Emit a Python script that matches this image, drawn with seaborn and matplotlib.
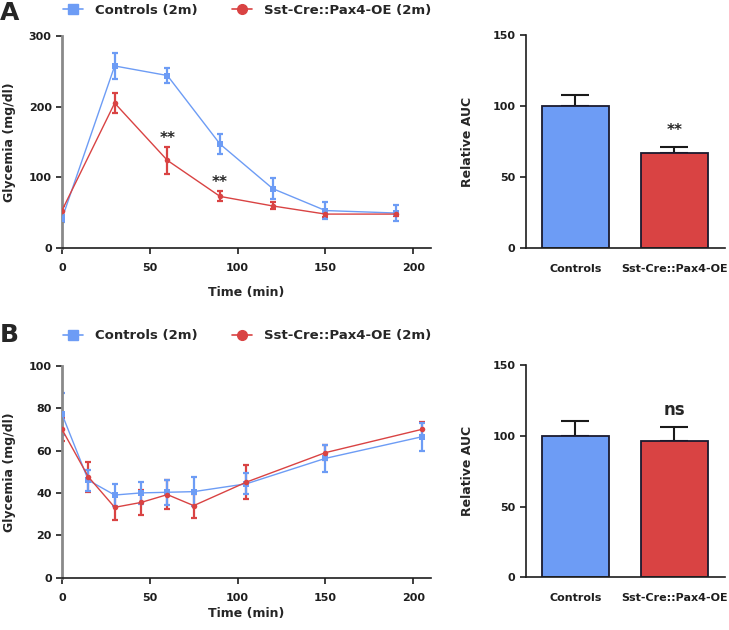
import numpy as np
import pandas as pd
import matplotlib
matplotlib.use("Agg")
import matplotlib.pyplot as plt
from matplotlib.lines import Line2D
import seaborn as sns

sns.set_theme(style="ticks")
plt.rcParams['font.family'] = ['DejaVu Sans']
plt.rcParams['font.weight'] = 'bold'

# ---------------- data ----------------
groups = ["Controls (2m)", "Sst-Cre::Pax4-OE (2m)"]
bar_labels = ["Controls", "Sst-Cre::Pax4-OE"]

# Panel A (glucose tolerance)
timeA = [0, 30, 60, 90, 120, 150, 190]
ctrlA = [41.5, 257.5, 244, 147, 84, 53, 49.5]
ctrlA_err = [5, 18, 11, 14, 15, 12, 11]
paxA = [53, 205, 124, 73, 59.5, 48, 48]
paxA_err = [7, 14, 19, 7, 5, 4, 3]

# Panel B (insulin tolerance)
timeB = [0, 15, 30, 45, 60, 75, 105, 150, 205]
ctrlB = [77.2, 46, 39, 40, 40.3, 40.6, 44.3, 56.3, 66.5]
ctrlB_err = [10, 5, 5, 5, 6, 7, 5, 6.5, 6.5]
paxB = [70, 47.6, 33.2, 35.5, 39.2, 34, 45.1, 59, 70]
paxB_err = [5.5, 7, 6, 6, 7, 5.6, 8, 3.7, 3.5]

# AUC bars
aucA = [100, 67.1]
aucA_err = [7.6, 4]
aucB = [100, 96.3]
aucB_err = [10.4, 9.7]

BLUE = "#6d9cf5"
RED = "#d94343"
INK = "#1e1e1e"

fig = plt.figure(figsize=(7.29, 6.3), dpi=100)

def style_line_ax(ax, ymax, ystep):
    ax.set_xlim(0, 210)
    ax.set_ylim(0, ymax)
    ax.set_xticks([0, 50, 100, 150, 200])
    ax.set_yticks(np.arange(0, ymax + 1, ystep))
    for s in ["top", "right"]:
        ax.spines[s].set_visible(False)
    ax.spines["left"].set_color("#8a8a8a")
    ax.spines["left"].set_linewidth(2)
    ax.spines["bottom"].set_color(INK)
    ax.spines["bottom"].set_linewidth(1.2)
    ax.tick_params(axis="x", direction="out", length=4.5, width=1.2,
                   labelsize=8, colors=INK, pad=6.5)
    ax.tick_params(axis="y", direction="out", length=4, width=1.2,
                   labelsize=8, colors=INK, pad=3.4)
    for lab in ax.get_xticklabels() + ax.get_yticklabels():
        lab.set_fontweight("bold")
    ax.set_ylabel("Glycemia (mg/dl)", fontsize=9, fontweight="bold", labelpad=9)

def draw_lines(ax, t, c, ce, p, pe):
    df = pd.DataFrame({
        "Time": list(t) + list(t),
        "Glycemia": list(c) + list(p),
        "Group": [groups[0]] * len(t) + [groups[1]] * len(t),
    })
    sns.lineplot(data=df, x="Time", y="Glycemia", hue="Group", style="Group",
                 palette=[BLUE, RED], markers=["s", "o"], dashes=False,
                 markersize=4, linewidth=1.0, markeredgewidth=0, ax=ax,
                 legend=False, zorder=3)
    ax.errorbar(t, p, yerr=pe, fmt="none", ecolor=RED, elinewidth=1.6,
                capsize=2.5, capthick=1.6, zorder=2)
    ax.errorbar(t, c, yerr=ce, fmt="none", ecolor=BLUE, elinewidth=1.6,
                capsize=2.5, capthick=1.6, zorder=2)

def legend_row(fig, y):
    h1 = Line2D([], [], color=BLUE, marker="s", markersize=7, linewidth=1.2)
    h2 = Line2D([], [], color=RED, marker="o", markersize=7, linewidth=1.2)
    fig.legend([h1, h2], groups, loc="center left", bbox_to_anchor=(0.0864, y),
               ncol=2, frameon=False, handlelength=1.5, columnspacing=2.65,
               handletextpad=0.9, borderpad=0, borderaxespad=0,
               prop={"weight": "bold", "size": 9.5})

def style_bar_ax(ax):
    ax.set_ylim(0, 150)
    ax.set_xlim(-0.5, 1.51)
    ax.set_yticks([0, 50, 100, 150])
    for s in ["top", "right"]:
        ax.spines[s].set_visible(False)
    ax.spines["left"].set_color(INK)
    ax.spines["bottom"].set_color(INK)
    ax.spines["left"].set_linewidth(1.2)
    ax.spines["bottom"].set_linewidth(1.2)
    ax.tick_params(axis="y", direction="out", length=4.3, width=1.2,
                   labelsize=8, colors=INK, pad=3.4)
    ax.tick_params(axis="x", length=0, labelsize=8, pad=11.5, colors=INK)
    for lab in ax.get_xticklabels() + ax.get_yticklabels():
        lab.set_fontweight("bold")
    ax.set_xlabel("")
    ax.set_ylabel("Relative AUC", fontsize=9, fontweight="bold", labelpad=13)

def draw_bars(ax, vals, errs):
    df = pd.DataFrame({"Group": bar_labels, "AUC": vals})
    sns.barplot(data=df, x="Group", y="AUC", hue="Group", palette=[BLUE, RED],
                saturation=1, width=0.667, edgecolor="#1a1a2e", linewidth=1.3,
                errorbar=None, legend=False, ax=ax, zorder=2)
    ax.errorbar([0, 1], vals, yerr=[[0, 0], errs], fmt="none", ecolor="#1a1a1a",
                elinewidth=1.5, capsize=10, capthick=1.5, zorder=1)

# ---------- Panel A ----------
axA = fig.add_axes([0.085, 0.6063, 0.506, 0.3367])
draw_lines(axA, timeA, ctrlA, ctrlA_err, paxA, paxA_err)
style_line_ax(axA, 300, 100)
axA.set_xlabel("Time (min)", fontsize=9, fontweight="bold", labelpad=9)
axA.text(60, 155, "**", ha="center", va="center", fontsize=11, fontweight="bold")
axA.text(90, 93, "**", ha="center", va="center", fontsize=11, fontweight="bold")

axAb = fig.add_axes([0.7215, 0.6068, 0.273, 0.3372])
draw_bars(axAb, aucA, aucA_err)
style_bar_ax(axAb)
axAb.text(1, 83, "**", ha="center", va="center", fontsize=11, fontweight="bold")

fig.text(0.0, 0.968, "A", fontsize=18, fontweight="bold", va="baseline", ha="left")
legend_row(fig, 0.984)

# ---------- Panel B ----------
axB = fig.add_axes([0.085, 0.083, 0.506, 0.3365])
draw_lines(axB, timeB, ctrlB, ctrlB_err, paxB, paxB_err)
style_line_ax(axB, 100, 20)
axB.set_xlabel("Time (min)", fontsize=9, fontweight="bold", labelpad=3)

axBb = fig.add_axes([0.7215, 0.0837, 0.273, 0.3369])
draw_bars(axBb, aucB, aucB_err)
style_bar_ax(axBb)
axBb.text(1, 118, "ns", ha="center", va="center", fontsize=12, fontweight="bold")

fig.text(0.0, 0.457, "B", fontsize=18, fontweight="bold", va="baseline", ha="left")
legend_row(fig, 0.467)

fig.savefig("out.png", dpi=100)
